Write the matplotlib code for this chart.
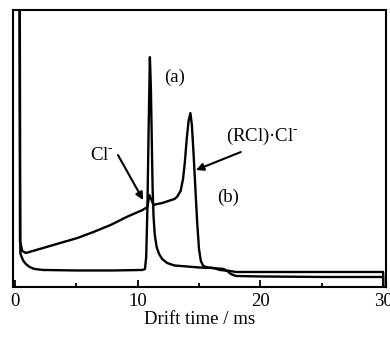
import matplotlib
matplotlib.use("Agg")
import matplotlib.pyplot as plt
from matplotlib.ticker import MultipleLocator

plt.rcParams["font.family"] = ["Liberation Serif", "DejaVu Serif"]
plt.rcParams["mathtext.fontset"] = "custom"
plt.rcParams["mathtext.rm"] = "Liberation Serif"

# drift spectra (arbitrary intensity units, y axis has no scale)
t_a = [0.1, 0.38, 0.45, 0.55, 0.7, 0.9, 1.2, 1.6, 2.3, 5, 8, 10.4, 10.6, 10.7, 10.8,
       10.9, 11.0, 11.08, 11.15, 11.22, 11.3, 11.4, 11.55, 11.75, 12.0, 12.4, 13, 14,
       15, 16, 17, 17.3, 17.6, 18, 20, 25, 30, 30]
sig_a = [400, 400, 34, 30, 26, 23, 20, 18, 17, 16.5, 16.5, 17, 18, 30, 80,
         160, 230, 200, 150, 100, 70, 52, 40, 33, 28, 24, 21.5, 20.5,
         19.5, 19, 18, 16, 13, 11, 10.5, 10, 10, 0]

t_b = [0.15, 0.36, 0.42, 0.5, 0.6, 0.9, 2.3, 3.7, 5.1, 6.4, 7.8, 9.1, 10.4, 10.8, 10.95,
       11.1, 11.3, 11.6, 12, 12.5, 13, 13.2, 13.5, 13.7, 13.85, 14.0, 14.15, 14.3, 14.42,
       14.55, 14.7, 14.85, 15.0, 15.15, 15.35, 15.7, 16.2, 16.7, 17.5, 18, 20, 25, 30, 30]
sig_b = [400, 400, 45, 42, 36, 34, 39, 44, 49, 55, 62, 70, 77, 80, 92,
         88, 82, 83, 84, 86, 88, 90, 96, 108, 125, 148, 166, 174, 162,
         135, 100, 65, 38, 26, 21, 19.5, 19, 17, 16, 15, 15, 15, 15, 0]

fig = plt.figure(figsize=(3.9, 3.38), dpi=100)
ax = fig.add_axes([0.033, 0.151, 0.957, 0.819])
ax.plot(t_a, sig_a, color="black", lw=1.7)
ax.plot(t_b, sig_b, color="black", lw=1.7)

ax.set_xlim(-0.16, 30.24)
ax.set_ylim(0, 277)
ax.set_yticks([])
ax.xaxis.set_major_locator(MultipleLocator(10))
ax.xaxis.set_minor_locator(MultipleLocator(5))
ax.tick_params(axis="x", which="major", direction="in", length=5, width=1.3,
               labelsize=13.5, pad=4)
ax.tick_params(axis="x", which="minor", direction="in", length=3, width=1.3)
for s in ax.spines.values():
    s.set_linewidth(1.5)
ax.set_xlabel("Drift time / ms", fontsize=13.5, labelpad=1)

arrow = dict(arrowstyle="-|>", color="black", lw=1.5, mutation_scale=11, shrinkA=0, shrinkB=0)
ax.text(13.0, 210, "(a)", fontsize=13.5, ha="center", va="center")
ax.text(17.4, 90, "(b)", fontsize=13.5, ha="center", va="center")
ax.text(7.1, 132, r"Cl$^{\text{-}}$", fontsize=13.5, ha="center", va="center")
ax.annotate("", xy=(10.45, 87), xytext=(8.4, 132), arrowprops=arrow)
ax.text(20.2, 151, r"(RCl)·Cl$^{\text{-}}$", fontsize=13.5, ha="center", va="center")
ax.annotate("", xy=(14.75, 117), xytext=(18.4, 135), arrowprops=arrow)

fig.savefig("out.png", dpi=100)
